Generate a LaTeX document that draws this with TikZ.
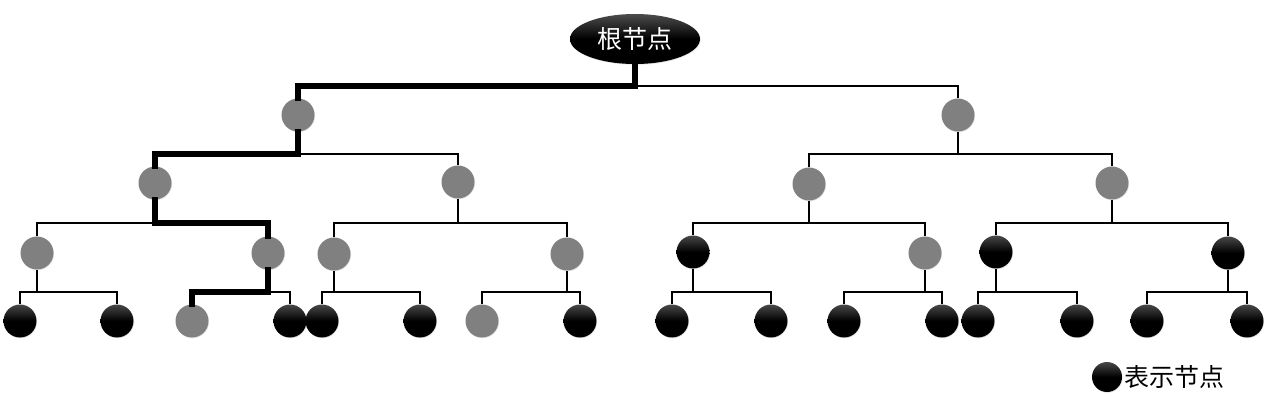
\documentclass[tikz,border=0pt]{standalone}
\usepackage{fontspec}
\newfontfamily\cjk{Noto Sans CJK SC}
\usetikzlibrary{shapes.geometric,shadows}
\tikzset{
  gnode/.style={circle,minimum size=33pt,inner sep=0pt,fill=black!50,
    drop shadow={shadow xshift=0.6pt,shadow yshift=-0.8pt,opacity=0.25,fill=black!40}},
  bnode/.style={circle,minimum size=33pt,inner sep=0pt,
    top color=black!72,bottom color=black,middle color=black,
    drop shadow={shadow xshift=0.6pt,shadow yshift=-0.8pt,opacity=0.25,fill=black!40}},
  conn/.style={line width=2pt,black},
  hot/.style={line width=5.5pt,black,line cap=rect},
  lbl/.style={font=\cjk\fontsize{25}{28}\selectfont}
}
\begin{document}
\begin{tikzpicture}[x=1pt,y=-1pt]
\useasboundingbox (0,0) rectangle (1271,403);
% root
\node[ellipse,minimum width=130pt,minimum height=50pt,inner sep=0pt,
  top color=black!70,bottom color=black,middle color=black,
  drop shadow={shadow xshift=0.6pt,shadow yshift=-0.8pt,opacity=0.25,fill=black!40},
  text=white,lbl] (root) at (635,39) {根节点};
% level 1
\node[gnode] (a) at (298,115) {};
\node[gnode] (b) at (958,115) {};
% level 2
\node[gnode] (aa) at (155,183) {};
\node[gnode] (ab) at (458,182) {};
\node[gnode] (ba) at (809,184) {};
\node[gnode] (bb) at (1112,183) {};
% level 3
\node[gnode] (aaa) at (37,253) {};
\node[gnode] (aab) at (268,253) {};
\node[gnode] (aba) at (334,254) {};
\node[gnode] (abb) at (567,254) {};
\node[bnode] (baa) at (693,252) {};
\node[gnode] (bab) at (925,253) {};
\node[bnode] (bba) at (996,252) {};
\node[bnode] (bbb) at (1228,253) {};
% level 4
\node[bnode] (aaaa) at (20,321) {};
\node[bnode] (aaab) at (117,321) {};
\node[gnode] (aaba) at (192,321) {};
\node[bnode] (aabb) at (290,321) {};
\node[bnode] (abaa) at (322,321) {};
\node[bnode] (abab) at (420,321) {};
\node[gnode] (abba) at (482,321) {};
\node[bnode] (abbb) at (580,321) {};
\node[bnode] (baaa) at (672,321) {};
\node[bnode] (baab) at (771,321) {};
\node[bnode] (baba) at (844,321) {};
\node[bnode] (babb) at (942,321) {};
\node[bnode] (bbaa) at (978,321) {};
\node[bnode] (bbab) at (1077,321) {};
\node[bnode] (bbba) at (1147,321) {};
\node[bnode] (bbbb) at (1247,321) {};
% connectors (thin)
\foreach \p/\l/\r/\y in {root/a/b/86, a/aa/ab/154, b/ba/bb/154,
  aa/aaa/aab/223, ab/aba/abb/223, ba/baa/bab/223, bb/bba/bbb/223,
  aaa/aaaa/aaab/292, aab/aaba/aabb/292, aba/abaa/abab/292, abb/abba/abbb/292,
  baa/baaa/baab/292, bab/baba/babb/292, bba/bbaa/bbab/292, bbb/bbba/bbbb/292}{
  \draw[conn] (\p.south) -- (\p.south |- 0,\y);
  \draw[conn] (\l.north) -- (\l.north |- 0,\y) -- (\r.north |- 0,\y) -- (\r.north);
}
% highlighted path
\draw[hot] (root.south) -- (root.south |- 0,86) -- (a.north |- 0,86) -- (a.north);
\draw[hot] (a.south) -- (a.south |- 0,154) -- (aa.north |- 0,154) -- (aa.north);
\draw[hot] (aa.south) -- (aa.south |- 0,223) -- (aab.north |- 0,223) -- (aab.north);
\draw[hot] (aab.south) -- (aab.south |- 0,292) -- (aaba.north |- 0,292) -- (aaba.north);
% legend
\node[bnode,minimum size=30pt] (leg) at (1107,377) {};
\node[lbl,anchor=west,inner sep=0pt] (legt) at (1124,377) {表示节点};
\end{tikzpicture}
\end{document}
